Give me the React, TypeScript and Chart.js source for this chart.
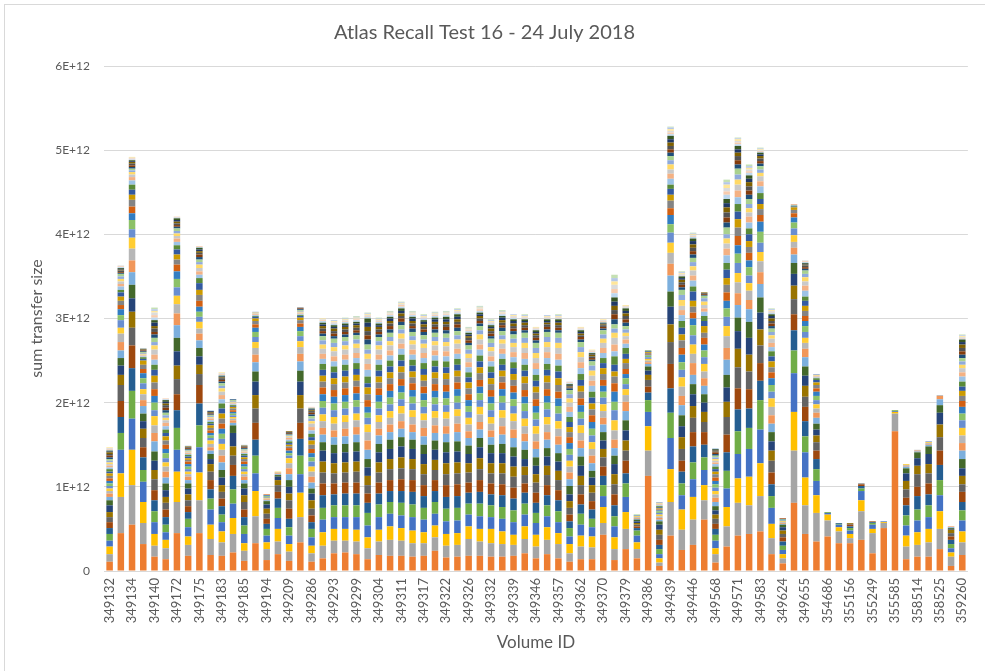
import React, { useEffect, useRef } from 'react';
import { Chart, registerables } from 'chart.js';

Chart.register(...registerables);

// Volume IDs printed on the axis (every other category carries a label)
const shownIds = [
  '349132', '349134', '349140', '349172', '349175', '349183', '349185', '349194', '349209', '349286',
  '349293', '349299', '349304', '349311', '349317', '349322', '349326', '349332', '349339', '349346',
  '349357', '349362', '349370', '349379', '349386', '349439', '349446', '349568', '349571', '349583',
  '349624', '349655', '354686', '355156', '355249', '355585', '358514', '358525', '359260',
];

const yTicks = [0, 1, 2, 3, 4, 5, 6];
const UNIT = 1e10; // values below are in units of 1E+10

const seriesColors = [
  'ED7D31', 'A5A5A5', 'FFC000', '4472C4', '70AD47', '255E91', '9E480E', '636363', '997300', '264478', '43682B',
  '7CAFDD', 'F1975A', 'B7B7B7', 'FFCD33', '698ED0', '8CC168', '327DC2', 'D26012', '848484', 'CC9A00', '335AA1',
  '5A8A39', '9DC3E6', 'F4B183', 'C9C9C9', 'FFD966', '8FAADC', 'A9D18E', '1F4E79', '843C0C', '525252', '7F6000',
  '203864', '385723', 'BDD7EE', 'F8CBAD', 'DBDBDB', 'FFE699', 'B4C7E7', 'C5E0B4',
];

// Segment values of each bar, bottom to top (one entry per series)
const v01 = [11,9,9,7,8,7,7,6,6,8,6, 4,4,3,3,3,3,3,3,3,3,2,3,2,2,2,2,2,2, 2,2,2,2,1,1, 1,1,1,1,0,0];
const v02 = [45,43,28,28,20,19,19,19,12,11,9, 9,10,10,7,9,6,7,5,5,5,5,3,4,3,3,3,3,3, 1,1,2,1,1,1, 1,1,1,0,0,0];
const v03 = [55,47,42,37,33,27,27,21,19,16,16, 15,14,14,13,10,11,8,8,8,6,6,6,5,4,3,3,2,2, 2,2,2,2,1,1, 1,1,1,1,0,0];
const v04 = [32,25,25,24,14,15,12,11,11,9,9, 9,7,7,6,7,6,6,5,5,5,2,2,1,1,1,1,1,1, 1,1,1,1,0,0, 1,0,0,0,0,0];
const v05 = [17,13,14,14,13,13,12,13,11,11,11, 12,10,9,11,7,9,8,8,8,8,7,6,6,6,6,5,4,5, 4,3,4,3,4,3, 3,3,3,2,2,2];
const v06 = [14,13,10,9,9,9,9,8,7,8,8, 7,7,6,5,5,6,5,5,5,5,4,4,4,4,3,3,3,3, 3,3,3,2,2,2, 1,1,0,0,0,0];
const v07 = [45,37,36,26,26,21,19,18,16,17,16, 15,14,11,10,10,10,9,8,6,6,6,5,4,4,3,3,3,3, 2,2,2,2,2,2, 1,1,0,0,0,0];
const v08 = [18,13,10,11,10,8,7,7,7,7,6, 4,4,3,3,3,3,3,3,2,2,2,2,1,1,1,1,1,1, 1,1,1,1,0,0, 1,0,0,0,0,0];
const v09 = [45,39,33,30,26,26,22,13,11,10,10, 9,8,6,8,6,6,6,7,7,6,8,6,4,4,4,4,3,3, 3,3,2,2,2,2, 1,1,0,0,0,0];
const v10 = [19,19,17,18,13,11,11,10,9,6,6, 4,4,4,4,3,3,3,3,3,3,2,2,2,2,1,1,1,1, 1,1,1,1,1,0, 1,0,0,0,0,0];
const v11 = [18,16,13,11,9,10,9,8,8,9,9, 9,8,7,7,6,6,6,6,6,6,6,6,5,5,4,4,3,3, 2,2,2,1,1,1, 1,1,1,1,0,0];
const v12 = [22,22,19,17,17,16,13,11,11,16,9, 3,3,2,2,2,2,2,2,2,2,1,1,1,1,1,1,1,1, 1];
const v13 = [12,12,9,11,10,10,9,9,8,8,6, 4,4,3,3,3,3,3,3,3,2,2,2,1,1,1,1,1,1, 1,1,1,1,0,0, 1];
const v14 = [33,32,30,21,21,19,20,17,16,16,12, 11,9,8,7,6,6,5,4,4,3,2,1,1,1,1,1,1];
const v15 = [13,13,8,8,8,6,6,6,6,5,4, 1,1,1,1,1,1,1,1];
const v16 = [20,15,15,13,12,11,8,8,6,4,2, 1,1,1,1];
const v17 = [12,11,9,10,10,10,12,10,8,8,8, 7,7,6,6,3,3,3,3,2,2,2,2,2,2,1,1,1,1, 1,1,1,1];
const v18 = [34,30,29,22,22,20,19,17,16,16,13, 11,9,8,7,6,6,5,4,4,3,2,1,1,1,1,1,1,1, 1,1,1];
const v19 = [11,10,9,10,10,8,8,8,10,8,6, 7,7,6,6,6,5,5,5,5,5,4,4,4,4,4,3,3,3, 2,2,2,1,1,1, 1,1,0,0,0,0];
const v20 = [15,15,16,15,14,15,14,13,13,13,10, 9,8,8,8,8,8,8,8,7,7,7,7,6,6,6,5,5,5, 3,3,3,3,2,2, 2,1,1,1,0,0];
const v21 = [21,15,14,14,14,13,13,12,12,12,10, 9,8,8,8,8,8,8,8,7,7,7,7,6,6,6,5,5,5, 3,3,3,3,2,2, 2,1,1,1,1,0];
const v22 = [22,14,14,14,14,14,13,12,12,12,10, 9,9,8,8,8,8,8,8,7,7,7,7,6,6,6,5,5,5, 3,3,3,3,2,2, 2,1,1,1,1,1];
const v23 = [20,15,14,15,14,14,13,13,12,12,11, 9,9,8,8,8,8,8,8,7,7,7,7,6,6,6,5,5,5, 3,3,3,3,2,2, 2,1,1,1,1,1];
const v24 = [14,13,13,14,15,12,11,10,11,10,10, 11,11,10,9,8,6,7,8,7,8,5,8,8,7,6,6,5,6, 6,5,5,5,5,5, 2,1,1,1,1,1];
const v25 = [19,16,14,15,15,13,13,12,12,12,10, 10,8,8,8,8,8,8,8,7,7,7,7,6,6,6,5,5,5, 3,3,3,3,2,2, 2,1,1,1,1,1];
const v26 = [18,19,16,15,14,13,13,13,12,12,11, 9,9,8,8,8,8,8,8,7,7,7,7,6,6,6,5,5,5, 4,4,3,3,3,2, 2,1,1,1,1,1];
const v27 = [18,18,15,15,15,14,14,13,13,13,11, 10,9,9,9,8,8,8,8,8,7,7,7,7,6,6,6,5,5, 4,4,3,3,3,3, 2,2,1,1,1,1];
const v28 = [17,16,15,16,15,15,14,13,12,12,11, 9,9,9,8,8,8,8,8,7,7,7,7,6,6,6,5,5,5, 4,3,3,3,3,2, 2,1,1,1,1,1];
const v29 = [18,15,13,15,14,14,13,13,12,12,11, 10,10,9,8,8,8,8,8,7,7,7,7,6,6,6,5,5,5, 4,3,3,3,3,2, 2,1,1,1,1,1];
const v30 = [24,16,14,14,14,13,13,12,12,12,11, 9,9,9,8,8,8,8,8,7,7,7,7,6,6,6,5,5,5, 4,3,3,3,3,2, 2,1,1,1,1,1];
const v31 = [16,14,14,15,15,14,14,13,13,13,12, 10,9,9,8,8,8,8,8,7,7,7,7,6,6,6,5,5,5, 4,4,3,3,3,3, 2,1,1,1,1,1];
const v32 = [17,14,14,15,15,14,14,13,13,13,12, 11,10,9,8,8,8,8,8,7,7,7,7,6,6,6,5,5,5, 4,4,3,3,3,3, 2,1,1,1,1,1];
const v33 = [18,20,15,14,13,13,12,12,11,11,10, 9,8,8,8,7,7,7,7,7,7,6,6,6,6,5,5,5,5, 3,3,3,2,2,2, 2,1,1,1,1,1];
const v34 = [18,17,15,15,15,14,14,13,13,13,11, 10,9,9,9,8,8,8,8,8,7,7,7,7,6,6,6,5,5, 3,3,3,3,2,2, 2,2,1,1,1,1];
const v35 = [17,16,17,14,14,13,13,12,12,12,10, 9,8,8,8,8,8,8,8,7,7,7,7,6,6,6,5,5,5, 3,3,3,3,2,2, 2,1,1,1,1,1];
const v36 = [17,15,15,15,14,14,13,13,12,12,11, 11,10,10,9,9,8,8,8,7,7,7,7,6,6,6,5,5,5, 4,3,3,3,3,2, 2,1,1,1,1,1];
const v37 = [18,13,12,15,14,14,13,13,12,12,11, 11,10,10,9,9,8,8,8,7,7,7,7,6,6,6,5,5,5, 4,3,3,3,3,2, 2,1,1,1,1,0];
const v38 = [21,17,15,14,13,13,11,10,10,9,11, 10,9,9,9,9,9,8,8,8,8,7,7,7,7,6,6,6,6, 3,3,3,3,2,2, 1,1,1,1,1,1];
const v39 = [15,14,14,14,12,12,12,12,10,10,10, 10,9,9,9,8,8,8,8,8,7,7,7,7,7,6,6,6,6, 3,3,3,2,2,2, 1,1,1,1,0,0];
const v40 = [20,17,15,13,13,12,12,12,11,11,10, 10,9,9,9,9,8,8,8,8,8,7,7,7,7,6,6,6,6, 3,3,3,2,2,2, 1,1,1,1,1,0];
const v41 = [15,17,13,13,13,13,12,12,11,11,10, 10,10,9,9,9,9,9,8,8,8,8,7,7,7,7,6,6,6, 3,3,3,3,2,2, 1,1,1,1,1,1];
const v42 = [11,10,11,9,10,8,8,8,8,8,10, 8,8,7,7,7,7,7,7,6,6,6,6,6,6,5,5,5,5, 2,1,1,1,1,1, 1,1,1,0,0,0];
const v43 = [14,15,13,13,13,11,12,11,11,12,11, 10,9,9,9,8,8,8,8,8,7,7,7,7,7,6,6,6,6, 3,3,2,2,2,2, 1,1,1,1,0,0];
const v44 = [14,14,13,11,10,11,10,10,9,9,8, 9,9,8,8,8,8,8,8,7,7,7,7,7,6,6,6,6,5, 2,2,2,2,1,1, 1,1,1,1,0,0];
const v45 = [43,14,19,13,13,11,11,11,10,10,10, 9,8,8,8,8,7,7,7,7,7,6,6,6,6,6,5,5,5, 2,2,2,1,1,1, 1,1,1,1,0,0];
const v46 = [13,13,14,13,12,13,13,12,12,12,10, 9,10,11,12,12,10,12,10,8,6,8,10,6,8,8,6,5,5, 6,6,5,5,5,5, 5,5,5,4,4,4];
const v47 = [26,24,20,18,16,12,15,12,12,12,12, 11,11,8,7,6,7,5,6,7,5,6,7,5,5,4,4,4,4, 4,4,4,3,3,3, 1,1,1,1,0,0];
const v48 = [15,11,8,8,6,3,2,2,2,2,2, 1,1,1,1,1,1];
const v49 = [113,30,29,17,14,9,7,8,6,5,5, 3,2,2,2,2,2,1,1,1,1,1,1];
const v50 = [6,4,5,5,6,5,6,6,6,6,4, 2,2,2,2,2,2,1,1,1,1,1,1,1,1,1,1,1];
const v51 = [42,40,39,37,30,29,29,26,21,21,18, 19,14,13,12,12,10,11,8,9,7,7,5,7,6,5,6,5,5, 4,4,4,4,4,4, 2,2,2,2,2,1];
const v52 = [25,24,24,17,14,14,13,14,14,13,13, 12,11,11,11,9,9,9,8,9,7,8,8,7,6,5,7,6,6, 3,3,3,3,2,2, 1,1,1,1,1,1];
const v53 = [31,30,27,21,20,19,17,17,14,14,12, 11,14,11,11,11,12,8,7,7,7,11,6,7,6,6,5,5,5, 4,4,4,4,4,3, 2,1,1,1,1,1];
const v54 = [61,23,18,18,15,15,15,12,12,11,10, 10,9,8,9,8,8,7,8,6,8,6,6,5,4,4,4,4,3, 1,1,1,1];
const v55 = [10,10,7,9,7,7,6,6,5,5,5, 5,5,4,4,4,4,4,4,4,3,3,3,3,2,2,2,2,2, 2,2,1,1,1,1, 1];
const v56 = [29,24,23,22,21,22,21,21,18,17,15, 18,14,14,12,11,10,9,10,9,8,10,8,9,8,6,6,5,8, 6,6,6,6,5,5, 5,4,4,4,3,3];
const v57 = [42,39,29,29,27,26,25,25,22,21,16, 15,14,13,11,12,11,10,11,10,10,9,9,8,8,7,6,6,7, 5,5,5,4,4,4, 2,2,2,2,1,1];
const v58 = [44,34,34,33,25,23,23,21,20,20,19, 15,11,11,9,9,10,8,9,7,7,8,7,7,7,5,5,5,6, 5,5,5,5,4,4, 3,2,2,2,2,2];
const v59 = [47,42,39,40,35,23,21,21,19,20,18, 16,14,13,11,11,13,12,8,7,6,6,7,8,6,6,4,4,4, 3,3,3,3,2,2, 1,1,1,1,1,1];
const v60 = [20,19,17,19,14,14,14,14,12,11,11, 10,10,10,10,8,8,8,7,6,7,6,6,5,5,5,4,4,4, 3,3,3,3,3,2, 2,1,1,1,1,1];
const v61 = [9,6,5,5,5,5,5,4,4,4,3, 1,1,1,1,1,1,1,1];
const v62 = [81,62,46,46,27,24,19,18,16,14,13, 10,8,7,8,8,7,6,5,4,3,1,1,1,1];
const v63 = [44,34,33,30,19,18,17,12,13,12,11, 11,10,7,6,7,7,6,6,6,6,6,5,7,6,5,5,4,4, 2,2,2,1,1,1, 1,1,1];
const v64 = [35,34,21,17,14,12,10,10,8,7,7, 7,6,5,5,5,5,5,4,4,3,3,2,1,1,1,1,1];
const v65 = [41,19,7,2,1];
const v66 = [33,14,5,3,1,1];
const v67 = [33,6,5,4,3,2,2,1,1];
const v68 = [37,34,13,11,3,3,2,1];
const v69 = [21,24,5,5,2,1,1];
const v70 = [51,6,1,1];
const v71 = [166,21,2,1,1];
const v72 = [14,15,13,12,12,12,9,10,10,9,6, 2,1,1,1];
const v73 = [17,14,15,14,13,16,11,15,10,9,7, 1,1,1];
const v74 = [17,17,16,14,14,13,13,12,11,12,9, 2,1,1,1,1];
const v75 = [26,24,21,19,18,18,17,16,15,14,9, 7,4,1];
const v76 = [6,11,5,5,5,5,4,4,4,1,1, 1,1];
const v77 = [19,15,13,13,12,10,12,9,10,9,11, 10,9,9,9,9,8,8,7,6,6,5,6,6,5,5,4,4,4, 4,4,4,4,3,3, 1,1,1,1,1,1];

const bars = [
  v01, v02, v03, v04, v05, v06, v07, v08, v09, v10, v11, v12, v13, v14, v15, v16, v17, v18, v19, v20,
  v21, v22, v23, v24, v25, v26, v27, v28, v29, v30, v31, v32, v33, v34, v35, v36, v37, v38, v39, v40,
  v41, v42, v43, v44, v45, v46, v47, v48, v49, v50, v51, v52, v53, v54, v55, v56, v57, v58, v59, v60,
  v61, v62, v63, v64, v65, v66, v67, v68, v69, v70, v71, v72, v73, v74, v75, v76, v77,
];

// 77 categories: labelled ones alternate with unlabelled ones
const categories: string[] = [];
shownIds.forEach((id, i) => {
  categories.push(id);
  if (i < shownIds.length - 1) categories.push('');
});

const FONT = 'Lato, "Open Sans", sans-serif';
const TEXT = '#595959';
const GRID = '#D9D9D9';

export default function App() {
  const ref = useRef<HTMLCanvasElement | null>(null);

  useEffect(() => {
    document.body.style.overflow = 'hidden';
    const canvas = ref.current;
    if (!canvas) return;
    const datasets = seriesColors.map((c, s) => ({
      label: `Series ${s + 1}`,
      data: bars.map((b) => (b[s] ?? 0) * UNIT),
      backgroundColor: '#' + c,
      borderWidth: 0,
      barPercentage: 0.58,
      categoryPercentage: 1,
    }));
    const chart = new Chart(canvas, {
      type: 'bar',
      data: { labels: categories, datasets },
      options: {
        responsive: false,
        animation: false,
        devicePixelRatio: 1,
        layout: { padding: { left: 0, right: 16, top: 0, bottom: 0 } },
        plugins: {
          legend: { display: false },
          tooltip: { enabled: false },
          title: {
            display: true,
            text: 'Atlas Recall Test 16 - 24 July 2018',
            color: TEXT,
            font: { family: FONT, size: 20, weight: 'normal' },
            padding: { top: 21, bottom: 21 },
          },
        },
        scales: {
          x: {
            stacked: true,
            grid: { display: false, drawTicks: false },
            border: { display: false },
            ticks: {
              autoSkip: false,
              minRotation: 90,
              maxRotation: 90,
              padding: 7,
              color: TEXT,
              font: { family: FONT, size: 13 },
              callback: (_v: any, i: number) => categories[i],
            },
            title: {
              display: true,
              text: 'Volume ID',
              color: TEXT,
              font: { family: FONT, size: 17 },
              padding: { top: 0, bottom: 18 },
            },
            afterFit: (scale: any) => {
              scale.height = 100;
            },
          },
          y: {
            stacked: true,
            min: 0,
            max: yTicks[yTicks.length - 1] * 1e12,
            grid: { color: GRID, lineWidth: 1, drawTicks: false },
            border: { display: false },
            ticks: {
              stepSize: 1e12,
              padding: 14,
              color: TEXT,
              font: { family: FONT, size: 12 },
              callback: (v: any) => {
                const n = Math.round(Number(v) / 1e12);
                return yTicks.includes(n) ? (n === 0 ? '0' : `${n}E+12`) : '';
              },
            },
            title: {
              display: true,
              text: 'sum transfer size',
              color: TEXT,
              font: { family: FONT, size: 16 },
              padding: { top: 27, bottom: 0 },
            },
            afterFit: (scale: any) => {
              scale.width = 104;
            },
          },
        },
      },
    });
    return () => chart.destroy();
  }, []);

  return (
    <div style={{ position: 'absolute', left: 0, top: 0, width: 985, height: 671, background: '#fff', overflow: 'hidden' }}>
      <canvas ref={ref} width={985} height={671} style={{ width: 985, height: 671, display: 'block' }} />
      <div
        style={{
          position: 'absolute',
          left: 4,
          top: 4,
          width: 981,
          height: 667,
          borderTop: `1px solid ${GRID}`,
          borderLeft: `1px solid ${GRID}`,
          boxSizing: 'border-box',
          pointerEvents: 'none',
        }}
      />
    </div>
  );
}
